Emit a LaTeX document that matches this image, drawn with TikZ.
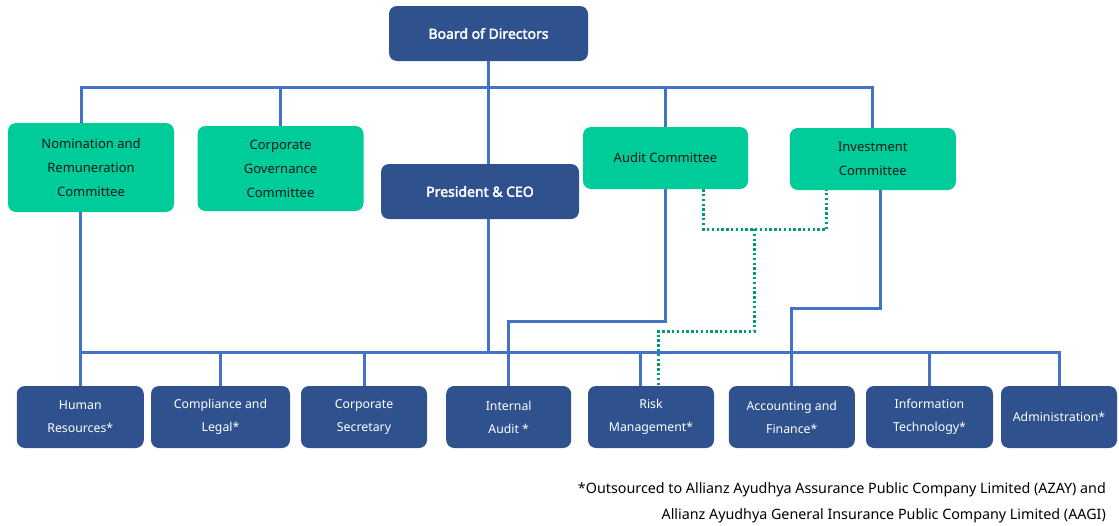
\documentclass[tikz,border=0pt]{standalone}
\usepackage{fontspec}
\setmainfont{Noto Sans}[AutoFakeBold=2.5]
\definecolor{boxblue}{RGB}{47,82,143}
\definecolor{comgreen}{RGB}{0,204,153}
\definecolor{linkblue}{RGB}{68,114,196}
\definecolor{dotteal}{RGB}{0,153,128}
\begin{document}
\begin{tikzpicture}[x=1pt, y=-1pt,
    blubox/.style={fill=boxblue, rounded corners=8pt, text=white, align=center, inner sep=0pt, font=\fontsize{12.3}{23}\selectfont},
    grnbox/.style={fill=comgreen, rounded corners=8pt, text=black!90, align=center, inner sep=0pt, font=\fontsize{13}{24}\selectfont},
    link/.style={draw=linkblue, line width=3pt},
    dotlink/.style={draw=dotteal, line width=3pt, dash pattern=on 2.4pt off 2.4pt}]
    \useasboundingbox (0,0) rectangle (1119,525);
    % top level
    \node [blubox, minimum width=199pt, minimum height=55pt, font=\bfseries\fontsize{14}{16}\selectfont] (board) at (488.5,33.5) {Board of Directors};
    \node [grnbox, minimum width=166pt, minimum height=89pt] (nrc) at (91,167.5) {Nomination and\\Remuneration\\Committee};
    \node [grnbox, minimum width=166pt, minimum height=85pt] (cgc) at (280.5,168.5) {Corporate\\Governance\\Committee};
    \node [blubox, minimum width=198pt, minimum height=55pt, font=\bfseries\fontsize{14}{16}\selectfont] (ceo) at (480,191.5) {President \& CEO};
    \node [grnbox, minimum width=165pt, minimum height=62pt] (aud) at (665.5,158) {Audit Committee};
    \node [grnbox, minimum width=166pt, minimum height=62pt] (inv) at (872.8,159) {Investment\\Committee};
    % departments
    \node [blubox, minimum width=127pt, minimum height=62pt] (hr) at (80.3,417) {Human\\Resources*};
    \node [blubox, minimum width=139pt, minimum height=62pt] (comp) at (220.5,417) {Compliance and\\Legal*};
    \node [blubox, minimum width=126pt, minimum height=62pt] (cs) at (364,417) {Corporate\\Secretary};
    \node [blubox, minimum width=125pt, minimum height=62pt] (ia) at (508.7,417) {Internal\\Audit *};
    \node [blubox, minimum width=126pt, minimum height=62pt] (risk) at (651,417) {Risk\\Management*};
    \node [blubox, minimum width=126pt, minimum height=62pt] (acc) at (791.8,417) {Accounting and\\Finance*};
    \node [blubox, minimum width=127pt, minimum height=62pt] (it) at (929.5,417) {Information\\Technology*};
    \node [blubox, minimum width=116pt, minimum height=62pt] (adm) at (1059,417) {Administration*};
    \node [anchor=north east, align=right, inner sep=0pt, font=\fontsize{14.3}{26}\selectfont] (note) at (1106,482) {*Outsourced to Allianz Ayudhya Assurance Public Company Limited (AZAY) and\\Allianz Ayudhya General Insurance Public Company Limited (AAGI)};
    % buses
    \coordinate (tbus) at (488.5,87);
    \coordinate (bbus) at (488.5,352);
    \coordinate (iaturn) at (508.7,321);
    \coordinate (accturn) at (791.8,308);
    \coordinate (dotmid) at (754,229);
    \coordinate (dotturn) at (754,331.7);
    \draw [link] ([xshift=-10pt]nrc.north) |- (tbus) -| (inv.north);
    \draw [link] (cgc.north) -- (cgc.north |- tbus);
    \draw [link] (aud.north) -- (aud.north |- tbus);
    \draw [link] (board.south) -- (board.south |- ceo.north);
    \draw [link] (ceo.south -| board.south) -- (bbus);
    \draw [link] (hr.north |- nrc.south) -- (hr.north);
    \draw [link] (hr.north |- bbus) -| (adm.north);
    \foreach \b in {comp, cs, it}
        \draw [link] (\b.north) -- (\b.north |- bbus);
    \draw [link] ([xshift=-11pt]risk.north) -- ([xshift=-11pt]risk.north |- bbus);
    \draw [link] (aud.south) |- (iaturn) -- (ia.north);
    \draw [link] ([xshift=8pt]inv.south) |- (accturn) -- (acc.north);
    % dotted reporting lines
    \draw [dotlink] ([xshift=38pt]aud.south) |- (dotmid) -| ([xshift=-46pt]inv.south);
    \draw [dotlink] (dotmid) -- (dotturn) -| ([xshift=7pt]risk.north);
\end{tikzpicture}
\end{document}
